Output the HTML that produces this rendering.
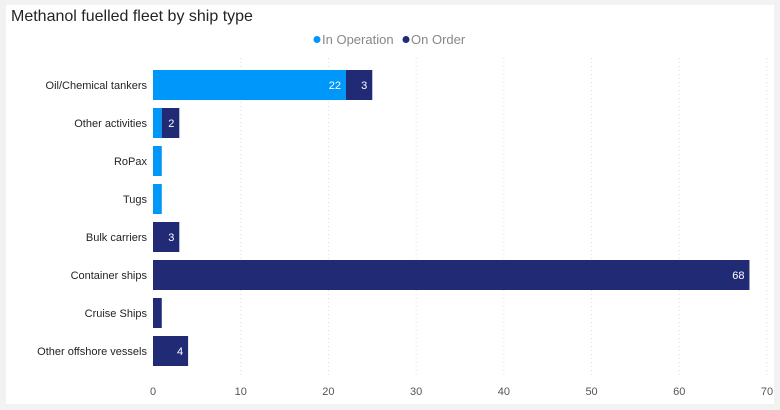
<!DOCTYPE html>
<html><head><meta charset="utf-8"><style>
body{margin:0;background:#f2f2f2;font-family:"Liberation Sans",sans-serif;}
#panel{position:absolute;left:6px;top:5px;width:768px;height:399px;background:#fff;}
</style></head><body>
<div id="panel"></div>
<svg id="chart" width="780" height="410" style="position:absolute;left:0;top:0">
<text x="11" y="21" font-size="16" fill="#252423">Methanol fuelled fleet by ship type</text>
<g>
<circle cx="317" cy="39.5" r="3.5" fill="#0097fb"/>
<text x="322" y="44" font-size="13" fill="#888">In Operation</text>
<circle cx="406" cy="39.5" r="3.5" fill="#212a75"/>
<text x="411" y="44" font-size="13" fill="#888">On Order</text>
</g>
<g id="grid"></g><g id="bars"></g><g id="ylabels"></g><g id="xlabels"></g>
</svg>
<script>
const categories=["Oil/Chemical tankers","Other activities","RoPax","Tugs","Bulk carriers","Container ships","Cruise Ships","Other offshore vessels"];
const inOperation=[22,1,1,1,0,0,0,0];
const onOrder=[3,2,0,0,3,68,1,4];
const xTicks=[0,10,20,30,40,50,60,70];
const NS="http://www.w3.org/2000/svg";
const x0=153,x1=767,xmax=70;
const x=v=>x0+(x1-x0)*v/xmax;
const rowY=i=>70+38*i;
const bh=30;
function mk(tag,attrs,parent){const e=document.createElementNS(NS,tag);for(const k in attrs)e.setAttribute(k,attrs[k]);document.getElementById(parent).appendChild(e);return e;}
xTicks.forEach(t=>{
 if(t>0){const l=mk('line',{x1:x(t),x2:x(t),y1:58,y2:378,stroke:'#ddd','stroke-dasharray':'1,3'},'grid');
 
 }
 const tx=mk('text',{x:x(t),y:395,'font-size':11,fill:'#555','text-anchor':'middle'},'xlabels');
 tx.textContent=t;
 
 
});
categories.forEach((c,i)=>{
 const y=rowY(i);
 const lb=mk('text',{x:147,y:y+bh/2+4,'font-size':11,fill:'#252423','text-anchor':'end'},'ylabels');
 lb.textContent=c;
 
 
 const a=inOperation[i],b=onOrder[i];
 if(a>0){const r=mk('rect',{x:x(0),y:y,width:x(a)-x(0),height:bh,fill:'#0097fb'},'bars');
  
  
  if(a>=2){const t=mk('text',{x:x(a)-5,y:y+bh/2+4,'font-size':11,fill:'#fff','text-anchor':'end'},'bars');t.textContent=a;
  
  }}
 if(b>0){const r=mk('rect',{x:x(a),y:y,width:x(a+b)-x(a),height:bh,fill:'#212a75'},'bars');
  
  
  if(b>=2){const t=mk('text',{x:x(a+b)-5,y:y+bh/2+4,'font-size':11,fill:'#fff','text-anchor':'end'},'bars');t.textContent=b;
  
  }}
});
</script>
</body></html>
